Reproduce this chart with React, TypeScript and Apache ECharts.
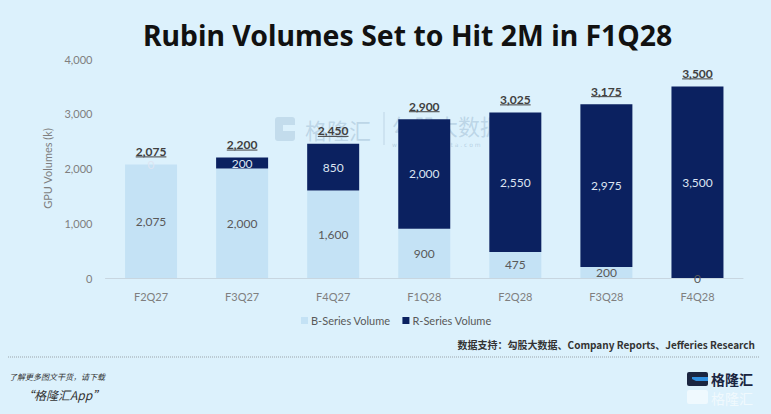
import React, { useEffect, useRef } from "react";
import * as echarts from "echarts";

const categories = ["F2Q27", "F3Q27", "F4Q27", "F1Q28", "F2Q28", "F3Q28", "F4Q28"];
const bSeries = [2075, 2000, 1600, 900, 475, 200, 0];
const rSeries = [0, 200, 850, 2000, 2550, 2975, 3500];
const yTicks = { min: 0, max: 4000, interval: 1000 };
const legendNames = ["B-Series Volume", "R-Series Volume"];

const fmt = (v: number) => v.toLocaleString("en-US");

let measureCtx: CanvasRenderingContext2D | null = null;
function textWidth(t: string, font: string) {
  if (!measureCtx) measureCtx = document.createElement("canvas").getContext("2d");
  if (!measureCtx) return t.length * 6;
  measureCtx.font = font;
  return measureCtx.measureText(t).width;
}

export default function App() {
  const ref = useRef<HTMLDivElement>(null);
  useEffect(() => {
    if (!ref.current) return;
    const chart = echarts.init(ref.current, undefined, { renderer: "svg" });
    const totals = categories.map((_, i) => [i, bSeries[i] + rSeries[i]]);
    const navy = "#0b2160";
    const light = "#c4e2f5";
    const grey = "#7f7f7f";
    const labelFont = "Lato";
    chart.setOption({
      animation: false,
      backgroundColor: "#dcf1fc",
      textStyle: { fontFamily: labelFont },
      title: {
        text: "Rubin Volumes Set to Hit 2M in F1Q28",
        left: 138,
        top: 16,
        textStyle: { fontFamily: "Noto Sans", fontWeight: "bold", fontSize: 28.4, color: "#111111" },
      },
      grid: { left: 105.5, right: 28, top: 59, bottom: 136 },
      legend: {
        data: legendNames,
        left: 296,
        top: 310,
        icon: "rect",
        itemWidth: 7,
        itemHeight: 7,
        itemGap: 12,
        textStyle: { fontSize: 11, color: "#595959", fontFamily: labelFont, padding: [0, 0, 0, -2] },
      },
      xAxis: {
        type: "category",
        data: categories,
        axisTick: { show: false },
        axisLine: { lineStyle: { color: "#c8d6e0", width: 1 } },
        axisLabel: { color: grey, fontSize: 11, margin: 13 },
      },
      yAxis: {
        type: "value",
        min: yTicks.min,
        max: yTicks.max,
        interval: yTicks.interval,
        splitLine: { show: false },
        axisLine: { show: false },
        axisTick: { show: false },
        axisLabel: { color: grey, fontSize: 11, margin: 13, formatter: (v: number) => fmt(v) },
        name: "GPU Volumes (k)",
        nameLocation: "middle",
        nameGap: 53,
        nameTextStyle: { color: grey, fontSize: 11 },
      },
      series: [
        {
          name: legendNames[0],
          type: "bar",
          stack: "total",
          barWidth: 52,
          data: bSeries,
          itemStyle: { color: light },
          label: { show: true, position: "inside", color: "#595959", fontSize: 12, formatter: (p: any) => fmt(p.value) },
        },
        {
          name: legendNames[1],
          type: "bar",
          stack: "total",
          barWidth: 52,
          data: rSeries,
          itemStyle: { color: navy },
          label: { show: true, position: "inside", color: "#dde5f2", fontSize: 12, formatter: (p: any) => fmt(p.value) },
        },
        {
          name: "Total",
          type: "custom",
          data: totals,
          z: 10,
          renderItem: (params: any, api: any) => {
            const total = api.value(1);
            const pt = api.coord([api.value(0), total]);
            const txt = fmt(total);
            const w = textWidth(txt, "bold 12px Lato");
            return {
              type: "group",
              children: [
                {
                  type: "text",
                  x: pt[0],
                  y: pt[1] - 13,
                  style: {
                    text: txt,
                    fill: "#404040",
                    font: "bold 12px Lato",
                    align: "center",
                    verticalAlign: "middle",
                  },
                },
                {
                  type: "line",
                  shape: { x1: pt[0] - w / 2, y1: pt[1] - 7.5, x2: pt[0] + w / 2, y2: pt[1] - 7.5 },
                  style: { stroke: "#404040", lineWidth: 1 },
                },
              ],
            };
          },
        },
      ],
      graphic: [
        // watermark
        {
          type: "group",
          silent: true,
          children: [
            { type: "rect", shape: { x: 275, y: 117, width: 20, height: 24, r: 3 }, style: { fill: "rgba(150,180,205,0.35)" } },
            { type: "rect", shape: { x: 283, y: 125, width: 12, height: 6 }, style: { fill: "#dcf1fc" } },
            { type: "text", x: 305, y: 129, style: { text: "格隆汇", fill: "rgba(150,180,205,0.45)", font: "22px 'Noto Sans CJK SC'", verticalAlign: "middle" } },
            { type: "line", shape: { x1: 384, y1: 112, x2: 384, y2: 145 }, style: { stroke: "rgba(150,180,205,0.45)", lineWidth: 1 } },
            { type: "text", x: 392, y: 125, style: { text: "勾股大数据", fill: "rgba(150,180,205,0.45)", font: "22px 'Noto Sans CJK SC'", verticalAlign: "middle" } },
            { type: "text", x: 392, y: 144, style: { text: "w w w . g u g u d a t a . c o m", fill: "rgba(150,180,205,0.55)", font: "6px 'DejaVu Sans'", verticalAlign: "middle" } },
          ],
        },
        // source
        {
          type: "text",
          right: 16,
          top: 339,
          style: { text: "数据支持：勾股大数据、Company Reports、Jefferies Research", fill: "#333333", font: "bold 10px 'Noto Sans CJK SC'" },
        },
        {
          type: "line",
          shape: { x1: 8, y1: 357, x2: 760, y2: 357 },
          style: { stroke: "#9aa4ab", lineWidth: 1, lineDash: [1, 1] },
        },
        {
          type: "text",
          x: 9,
          y: 376,
          style: { text: "了解更多图文干货，请下载", fill: "#333333", font: "italic 8px 'Noto Sans CJK SC'", verticalAlign: "middle" },
        },
        {
          type: "text",
          x: 22,
          y: 394,
          style: { text: "“格隆汇App”", fill: "#333333", font: "italic 12px 'Noto Sans CJK SC'", verticalAlign: "middle" },
        },
        // logo
        {
          type: "group",
          silent: true,
          children: [
            { type: "rect", shape: { x: 687, y: 372, width: 21, height: 14, r: 2 }, style: { fill: "#1a2540" } },
            { type: "polygon", shape: { points: [[692, 377], [708, 377], [708, 381], [696, 381], [692, 379]] }, style: { fill: "#2f8fe0" } },
            { type: "text", x: 711, y: 379, style: { text: "格隆汇", fill: "#1a2540", font: "bold 14px 'Noto Sans CJK SC'", verticalAlign: "middle" } },
            { type: "rect", shape: { x: 687, y: 390, width: 21, height: 14, r: 2 }, style: { fill: "rgba(255,255,255,0.55)" } },
            { type: "text", x: 711, y: 398, style: { text: "格隆汇", fill: "rgba(255,255,255,0.6)", font: "14px 'Noto Sans CJK SC'", verticalAlign: "middle" } },
          ],
        },
      ],
    });
    return () => chart.dispose();
  }, []);
  return <div ref={ref} style={{ position: "fixed", left: 0, top: 0, width: 771, height: 414 }} />;
}
